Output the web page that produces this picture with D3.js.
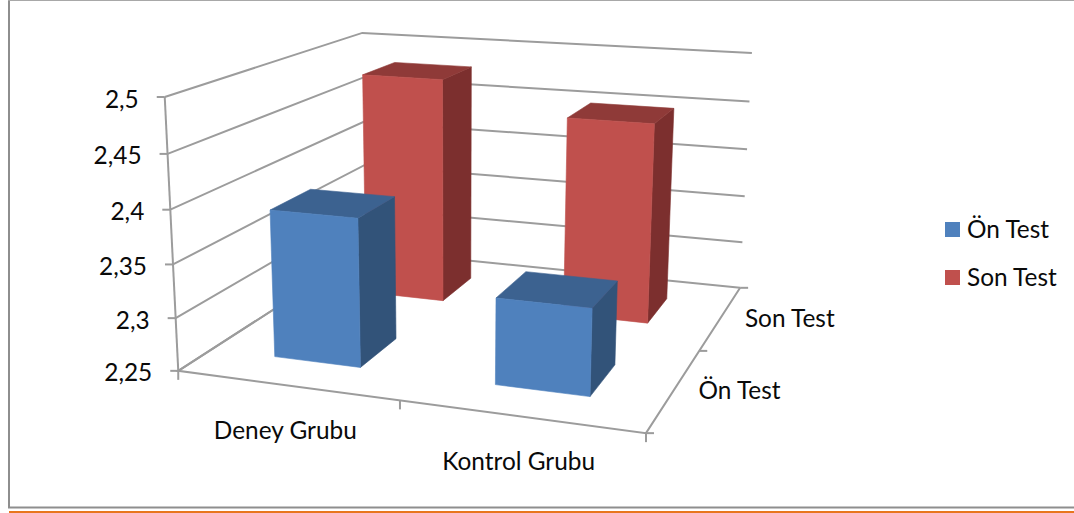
<!DOCTYPE html>
<html>
<head>
<meta charset="utf-8">
<script src="https://cdn.jsdelivr.net/npm/d3@7"></script>
<style>
    html, body { margin: 0; padding: 0; background: #fff; }
    svg { display: block; }
    text { font-family: Lato, "Open Sans", sans-serif; font-size: 24.4px; fill: #0a0a0a; }
</style>
</head>
<body>
<div id="chart"></div>
<script>
var categories = ["Deney Grubu", "Kontrol Grubu"];
var seriesNames = ["Ön Test", "Son Test"];
var onTest = [2.39, 2.33];
var sonTest = [2.48, 2.45];
var tickValues = [2.25, 2.3, 2.35, 2.4, 2.45, 2.5];
var tickLabels = ["2,25", "2,3", "2,35", "2,4", "2,45", "2,5"];

var width = 1074, height = 513;

var seriesValues = [onTest, sonTest];
var faceColors = [
    { front: "#4f81bd", top: "#3c6290", side: "#325379" },
    { front: "#c0504d", top: "#8f3a38", side: "#7c2f2e" }
];
var gridColor = "#9c9c9c";

/* where the corners of the unit plot box land on the page,
   the camera is fitted to these */
var boxCorners = [
    { box: [0, 0, 0], page: [178, 371] },
    { box: [1, 0, 0], page: [646, 433] },
    { box: [1, 1, 0], page: [740, 288] },
    { box: [0, 1, 0], page: [366, 250] },
    { box: [0, 0, 1], page: [165, 97] },
    { box: [1, 1, 1], page: [752, 53] },
    { box: [0, 1, 1], page: [362, 33] }
];

function solve(A, b) {
    var n = b.length;
    for (var i = 0; i < n; i++) {
        var p = i;
        for (var r = i + 1; r < n; r++) {
            if (Math.abs(A[r][i]) > Math.abs(A[p][i])) p = r;
        }
        var tmp = A[i]; A[i] = A[p]; A[p] = tmp;
        var t = b[i]; b[i] = b[p]; b[p] = t;
        for (r = i + 1; r < n; r++) {
            var f = A[r][i] / A[i][i];
            for (var c = i; c < n; c++) A[r][c] -= f * A[i][c];
            b[r] -= f * b[i];
        }
    }
    var x = new Array(n);
    for (i = n - 1; i >= 0; i--) {
        var s = b[i];
        for (c = i + 1; c < n; c++) s -= A[i][c] * x[c];
        x[i] = s / A[i][i];
    }
    return x;
}

// least squares fit of a 3x4 camera matrix
function fitCamera(points) {
    var rows = [], rhs = [];
    points.forEach(function (d) {
        var X = d.box[0], Y = d.box[1], Z = d.box[2], u = d.page[0], v = d.page[1];
        rows.push([X, Y, Z, 1, 0, 0, 0, 0, -u * X, -u * Y, -u * Z]); rhs.push(u);
        rows.push([0, 0, 0, 0, X, Y, Z, 1, -v * X, -v * Y, -v * Z]); rhs.push(v);
    });
    var AtA = d3.range(11).map(function (i) {
        return d3.range(11).map(function (j) {
            return d3.sum(rows, function (row) { return row[i] * row[j]; });
        });
    });
    var Atb = d3.range(11).map(function (i) {
        return d3.sum(rows, function (row, k) { return row[i] * rhs[k]; });
    });
    return solve(AtA, Atb);
}

var m = fitCamera(boxCorners);

function project(x, y, z) {
    var w = m[8] * x + m[9] * y + m[10] * z + 1;
    return [
        (m[0] * x + m[1] * y + m[2] * z + m[3]) / w,
        (m[4] * x + m[5] * y + m[6] * z + m[7]) / w
    ];
}

// same gaps as excel's default gap width / gap depth of 150%
var xScale = d3.scaleBand().domain(categories).range([0, 1]).paddingInner(0.6).paddingOuter(0.3);
var depthScale = d3.scaleBand().domain(seriesNames).range([0, 1]).paddingInner(0.6).paddingOuter(0.3);
var zScale = d3.scaleLinear().domain([2.25, 2.5]).range([0, 1]);

var svg = d3.select("#chart").append("svg")
    .attr("width", width)
    .attr("height", height);

var line = d3.line();

// frame
svg.append("path")
    .attr("d", "M9,-2V507.5H1076")
    .attr("fill", "none")
    .attr("stroke", "#8e8e8e")
    .attr("stroke-width", 2);
svg.append("line")
    .attr("x1", 8).attr("x2", 1074).attr("y1", 0.5).attr("y2", 0.5)
    .attr("stroke", "#a8a8a8");
svg.append("line")
    .attr("x1", 9).attr("x2", 1074).attr("y1", 512).attr("y2", 512)
    .attr("stroke", "#e8761e")
    .attr("stroke-width", 2);

// walls
var grid = svg.append("g")
    .attr("fill", "none")
    .attr("stroke", gridColor)
    .attr("stroke-width", 2);

tickValues.forEach(function (v) {
    var z = zScale(v);
    grid.append("path").attr("d", line([project(0, 0, z), project(0, 1, z), project(1, 1, z)]));
});
grid.append("path").attr("d", line([project(0, 1, 0), project(0, 0, 0), project(1, 0, 0), project(1, 1, 0)]));
grid.append("path").attr("d", line([project(0, 0, 0), project(0, 0, 1)]));

// tick marks
function tick(p, dx, dy) {
    grid.append("path").attr("d", line([p, [p[0] + dx, p[1] + dy]]));
}
tickValues.forEach(function (v) {
    tick(project(0, 0, zScale(v)), -8, 0);
});
[0, 0.5, 1].forEach(function (x) {
    tick(project(x, 0, 0), 0, 9);
});
[0, 0.5, 1].forEach(function (y) {
    tick(project(1, y, 0), 8, 0);
});

// bars, back series first
var bars = svg.append("g");

d3.range(seriesNames.length).reverse().forEach(function (s) {
    categories.forEach(function (cat, c) {
        var x0 = xScale(cat), x1 = x0 + xScale.bandwidth();
        var y0 = depthScale(seriesNames[s]), y1 = y0 + depthScale.bandwidth();
        var z1 = zScale(seriesValues[s][c]);
        var colors = faceColors[s];

        var faces = [
            { fill: colors.side, pts: [[x1, y0, 0], [x1, y1, 0], [x1, y1, z1], [x1, y0, z1]] },
            { fill: colors.top, pts: [[x0, y0, z1], [x1, y0, z1], [x1, y1, z1], [x0, y1, z1]] },
            { fill: colors.front, pts: [[x0, y0, 0], [x1, y0, 0], [x1, y0, z1], [x0, y0, z1]] }
        ];

        bars.selectAll(null)
            .data(faces).enter()
            .append("path")
            .attr("d", function (d) {
                return line(d.pts.map(function (p) { return project(p[0], p[1], p[2]); })) + "Z";
            })
            .attr("fill", function (d) { return d.fill; })
            .attr("stroke", function (d) { return d.fill; })
            .attr("stroke-width", 0.6);
    });
});

// value labels
tickValues.forEach(function (v, i) {
    var p = project(0, 0, zScale(v));
    svg.append("text")
        .attr("x", p[0] - 26)
        .attr("y", p[1] + 10.5)
        .attr("text-anchor", "end")
        .text(tickLabels[i]);
});

// category labels
categories.forEach(function (cat) {
    var p = project(xScale(cat) + xScale.bandwidth() / 2, 0, 0);
    svg.append("text")
        .attr("x", p[0] - 1)
        .attr("y", p[1] + 54)
        .attr("text-anchor", "middle")
        .text(cat);
});

// depth labels
seriesNames.forEach(function (name) {
    var p = project(1, depthScale(name) + depthScale.bandwidth() / 2, 0);
    svg.append("text")
        .attr("x", p[0] + 24)
        .attr("y", p[1] + 10)
        .text(name);
});

// legend
var legend = svg.selectAll(".legend")
    .data(seriesNames)
    .enter().append("g")
    .attr("class", "legend")
    .attr("transform", function (d, i) { return "translate(945," + (222 + i * 48) + ")"; });

legend.append("rect")
    .attr("width", 15)
    .attr("height", 15)
    .attr("fill", function (d, i) { return faceColors[i].front; });

legend.append("text")
    .attr("x", 22)
    .attr("y", 16)
    .text(function (d) { return d; });
</script>
</body>
</html>
